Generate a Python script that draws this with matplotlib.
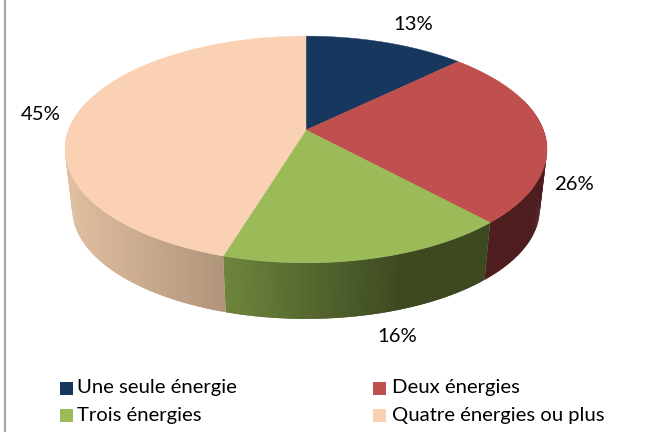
import numpy as np
import matplotlib
matplotlib.use("Agg")
import matplotlib.pyplot as plt
from matplotlib.patches import Polygon, Rectangle

# Data
categories = ["Une seule énergie", "Deux énergies", "Trois énergies", "Quatre énergies ou plus"]
shares = [13, 26, 16, 45]
percent_labels = ["13%", "26%", "16%", "45%"]

# Styles
top_colors = ["#17375E", "#C0504D", "#9BBB59", "#FAD2B3"]
wall_left = [(0.09, 0.13, 0.23), (0.31, 0.12, 0.12), (0.43, 0.52, 0.24), (0.88, 0.75, 0.63)]
wall_right = [(0.09, 0.13, 0.23), (0.30, 0.11, 0.12), (0.24, 0.29, 0.13), (0.69, 0.58, 0.48)]
wall_flat_from = [0, 0, 400, 0]   # x pixel where the gradient stops
label_pos = [(413, 25), (574, 184), (397, 337), (41, 114)]

FONT = "Lato"
FS = 14.6
W, H = 647, 432
fig = plt.figure(figsize=(W / 100, H / 100), dpi=100)
ax = fig.add_axes([0, 0, 1, 1])
ax.set_xlim(0, W)
ax.set_ylim(H, 0)
ax.axis("off")

CX, CY = 306.0, 130.0
K = 0.172
A, B = 110.0, 237.4
BOTTOM_SCALE, BOTTOM_DY = 0.97, 60.0
WARP = np.radians(3.2)  # view distortion of the angles on the disc
WARP_AT, WARP_WIDTH = np.radians(125), np.radians(70)


def project(theta, bottom=False):
    """theta: clockwise from the far side of the disc, in radians."""
    th = theta - WARP * np.exp(-((theta - WARP_AT) / WARP_WIDTH) ** 2)
    u, v = np.sin(th), np.cos(th)
    d = 1 + K * v
    x, y = B * u / d, -A * v / d
    if bottom:
        return CX + BOTTOM_SCALE * x, CY + BOTTOM_DY + BOTTOM_SCALE * y
    return CX + x, CY + y


edges = np.cumsum([0] + shares) / sum(shares) * 2 * np.pi

# Side wall, built from thin overlapping quads so the shading follows x
wall_start, wall_end = np.radians(75), np.radians(285)
for i in range(len(shares)):
    a0, a1 = max(edges[i], wall_start), min(edges[i + 1], wall_end)
    if a1 <= a0:
        continue
    ts = np.linspace(a0, a1, max(3, int((a1 - a0) * 90)))
    xs_all = project(ts)[0]
    lo, hi = xs_all.min(), xs_all.max()
    if wall_flat_from[i]:
        hi = min(hi, wall_flat_from[i])
    # each quad covers the seam of the one before
    for j in range(len(ts) - 1):
        t0 = ts[j]
        t1 = ts[min(j + 2, len(ts) - 1)]
        tm = (ts[j] + ts[j + 1]) / 2
        sub = np.linspace(t0, t1, 4)
        xt, yt = project(sub)
        xb, yb = project(sub, True)
        f = np.clip((project(tm)[0] - lo) / max(hi - lo, 1), 0, 1)
        c = tuple((1 - f) * np.array(wall_left[i]) + f * np.array(wall_right[i]))
        pts = list(zip(xt, yt)) + list(zip(xb[::-1], yb[::-1]))
        ax.add_patch(Polygon(pts, closed=True, fc=c, ec="none", lw=0, zorder=2 + i * 0.01))

# Top face
for i, col in enumerate(top_colors):
    ts = np.linspace(edges[i], edges[i + 1], 200)
    xs, ys = project(ts)
    pts = [(CX, CY)] + list(zip(xs, ys))
    ax.add_patch(Polygon(pts, closed=True, fc=col, ec=col, lw=0.3, zorder=3))

# Percent labels
for (x, y), s in zip(label_pos, percent_labels):
    ax.text(x, y, s, family=FONT, fontsize=FS, color="#000000", ha="center", va="center", zorder=5)

# Legend
swatch_x = [60, 373]
text_x = [77, 392]
row_y = [388, 415]
for i, (name, col) in enumerate(zip(categories, top_colors)):
    c, r = i % 2, i // 2
    ax.add_patch(Rectangle((swatch_x[c], row_y[r] - 6.5), 13, 13, fc=col, ec="none", zorder=4))
    ax.text(text_x[c], row_y[r], name, family=FONT, fontsize=FS, color="#000000", ha="left", va="center", zorder=5)

# Frame line at the left
ax.plot([4.7, 4.7], [0, H], color="#A6A6A6", lw=1.6, zorder=1, solid_capstyle="butt")

fig.savefig("out.png", dpi=100)
